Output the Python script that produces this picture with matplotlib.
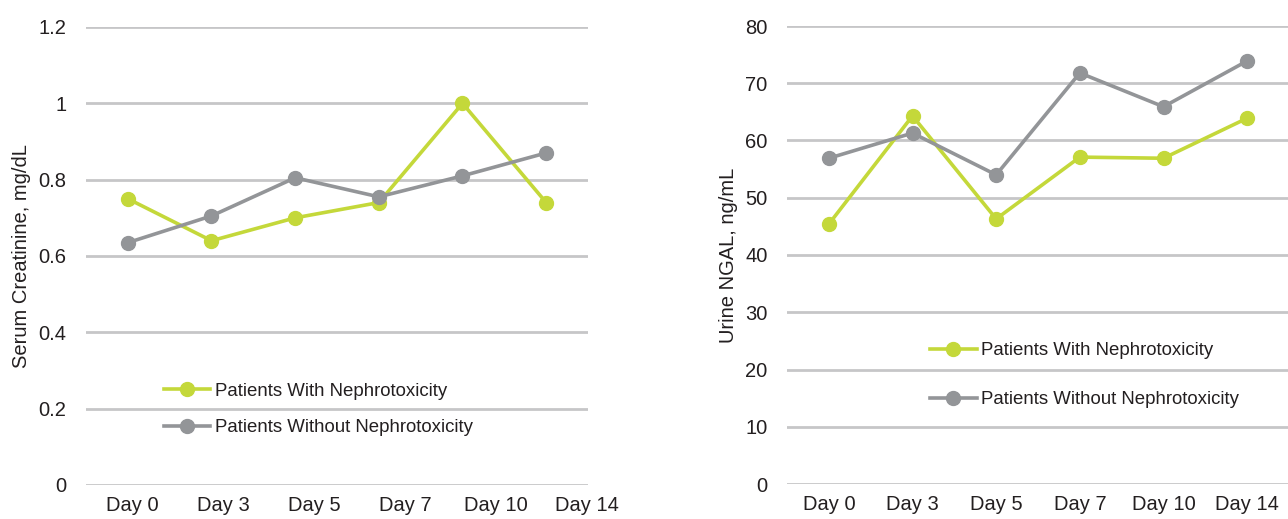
import numpy as np
import matplotlib
matplotlib.use("Agg")
import matplotlib.pyplot as plt

plt.rcParams['font.family'] = ['Liberation Sans', 'DejaVu Sans']

days = ["Day 0", "Day 3", "Day 5", "Day 7", "Day 10", "Day 14"]
creat_with = [0.75, 0.64, 0.70, 0.74, 1.00, 0.74]
creat_without = [0.635, 0.705, 0.805, 0.755, 0.81, 0.87]
ngal_with = [45.4, 64.3, 46.3, 57.1, 56.9, 63.9]
ngal_without = [56.9, 61.3, 54.0, 71.8, 65.9, 73.9]
series_labels = ["Patients With Nephrotoxicity", "Patients Without Nephrotoxicity"]

GREEN = "#C4D83A"
GRAY = "#939598"
GRID = "#C6C6C8"
TXT = "#231F20"

fig = plt.figure(figsize=(12.88, 5.19), dpi=100)
axL = fig.add_axes([86/1288, 1-485/519, (588-86)/1288, (485-27)/519])
axR = fig.add_axes([787/1288, 1-484/519, (1289-787)/1288, (484-26)/519])

def style(ax, ylim, yticks, ylabel, labelpad):
    ax.set_ylim(*ylim)
    ax.set_yticks(yticks)
    ax.set_xlim(-0.5, 5.5)
    for s in ax.spines.values():
        s.set_visible(False)
    ax.grid(axis='y', color=GRID, linewidth=2)
    ax.set_axisbelow(True)
    ax.tick_params(axis='both', length=0, labelsize=14.5, colors=TXT, pad=8)
    ax.tick_params(axis='y', pad=14)
    ax.set_ylabel(ylabel, fontsize=14.5, color=TXT, labelpad=labelpad)

x = np.arange(len(days))
kw = dict(linewidth=2.6, marker='o', markersize=10)

# Left: serum creatinine
axL.plot(x, creat_with, color=GREEN, label=series_labels[0], **kw)
axL.plot(x, creat_without, color=GRAY, label=series_labels[1], **kw)
style(axL, (0, 1.2), [0, 0.2, 0.4, 0.6, 0.8, 1.0, 1.2], "Serum Creatinine, mg/dL", 5.5)
axL.set_yticklabels(["0", "0.2", "0.4", "0.6", "0.8", "1", "1.2"])
axL.set_xticks(x * 1.087 + 0.05)
axL.set_xticklabels(days)
axL.legend(loc='upper left', bbox_to_anchor=(0.14, 0.24), frameon=False,
           fontsize=13.4, handlelength=2.5, handletextpad=0.25, labelspacing=1.05,
           borderaxespad=0, labelcolor=TXT)

# Right: urine NGAL
axR.plot(x, ngal_with, color=GREEN, label=series_labels[0], **kw)
axR.plot(x, ngal_without, color=GRAY, label=series_labels[1], **kw)
style(axR, (0, 80), [0, 10, 20, 30, 40, 50, 60, 70, 80], "Urine NGAL, ng/mL", 5.5)
axR.set_xticks(x)
axR.set_xticklabels(days)
axR.legend(loc='upper left', bbox_to_anchor=(0.27, 0.326), frameon=False,
           fontsize=13.4, handlelength=2.5, handletextpad=0.25, labelspacing=1.72,
           borderaxespad=0, labelcolor=TXT)

fig.savefig("out.png", dpi=100, facecolor="white")
